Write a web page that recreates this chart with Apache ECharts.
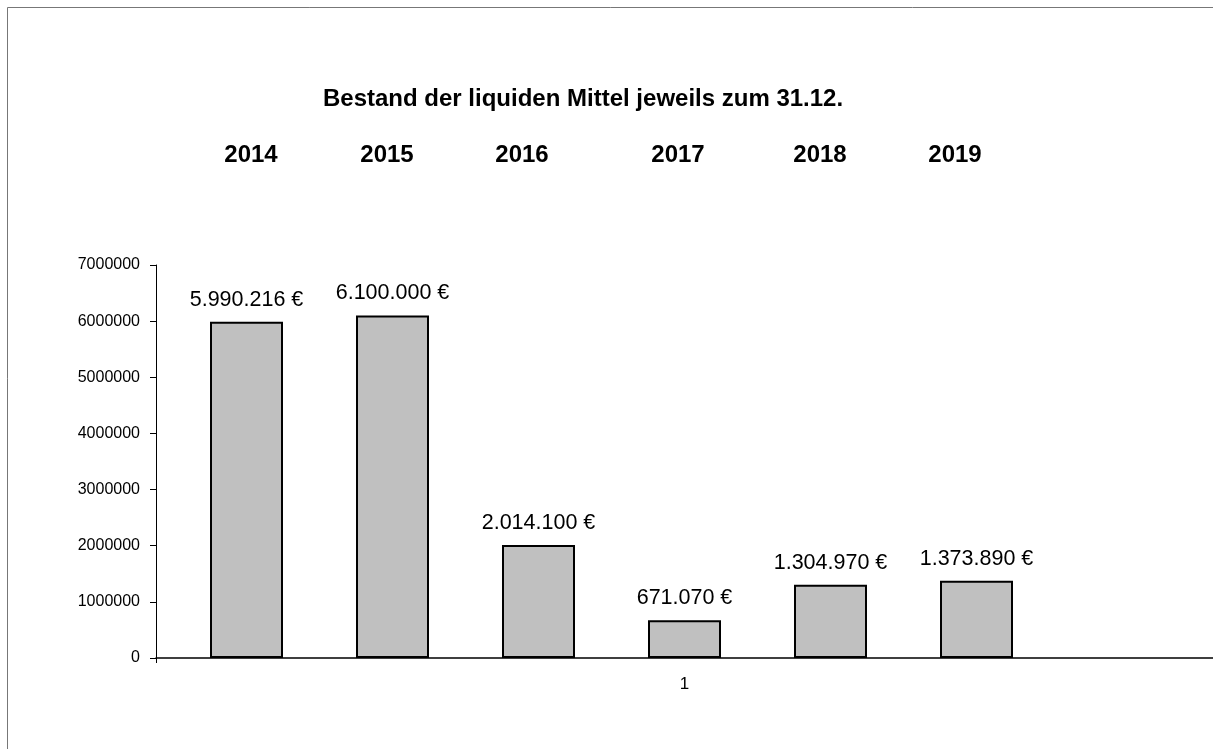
<!DOCTYPE html>
<html>
<head>
<meta charset="utf-8">
<script src="https://cdn.jsdelivr.net/npm/echarts@6/dist/echarts.min.js"></script>
<style>
  html, body { margin: 0; padding: 0; background: #fff; }
  #chart { width: 1213px; height: 749px; }
</style>
</head>
<body>
<div id="chart"></div>
<script>
// Data
const categories = ['1']
const years = ['2014', '2015', '2016', '2017', '2018', '2019']
const values = [5990216, 6100000, 2014100, 671070, 1304970, 1373890]
const yTicks = { min: 0, max: 7000000, interval: 1000000 }

// where the year headings sit above the plot
const yearX = [251, 387, 522, 678, 820, 955]

const FONT = 'Arial, "Liberation Sans", sans-serif'

const euro = (v) => String(v).replace(/\B(?=(\d{3})+(?!\d))/g, '.') + ' €'

const barSeries = years.map((y, i) => ({
  name: y,
  type: 'bar',
  barWidth: 73,
  barGap: '100%',
  itemStyle: { color: '#c0c0c0', borderColor: '#000', borderWidth: 2 },
  label: {
    show: true,
    position: 'top',
    distance: 11,
    color: '#000',
    fontFamily: FONT,
    fontSize: 21.5,
    formatter: (p) => euro(p.value)
  },
  data: [values[i]]
}))
// the original chart keeps an empty seventh slot to the right
barSeries.push({ name: '', type: 'bar', barWidth: 73, barGap: '100%', data: ['-'] })

const option = {
  animation: false,
  backgroundColor: '#fff',
  grid: { left: 156, right: 0, top: 265, bottom: 91, containLabel: false },
  title: {
    text: 'Bestand der liquiden Mittel jeweils zum 31.12.',
    left: 318,
    top: 82,
    textStyle: { fontFamily: FONT, fontSize: 24, fontWeight: 'bold', color: '#000' }
  },
  graphic: [
    {
      type: 'rect',
      silent: true,
      shape: { x: 7.5, y: 7.5, width: 1400, height: 1000 },
      style: { fill: 'none', stroke: '#777', lineWidth: 1 }
    },
    ...years.map((y, i) => ({
      type: 'text',
      x: yearX[i],
      y: 155,
      style: {
        text: y,
        fontFamily: FONT,
        fontSize: 24,
        fontWeight: 'bold',
        fill: '#000',
        textAlign: 'center',
        textVerticalAlign: 'middle'
      }
    }))
  ],
  xAxis: {
    type: 'category',
    data: categories,
    axisLine: { lineStyle: { color: '#000', width: 1.5 } },
    axisTick: { show: true, length: 5, lineStyle: { color: '#000' } },
    axisLabel: { color: '#000', fontFamily: FONT, fontSize: 17, margin: 18 }
  },
  yAxis: {
    type: 'value',
    min: yTicks.min,
    max: yTicks.max,
    interval: yTicks.interval,
    splitLine: { show: false },
    axisLine: { show: true, lineStyle: { color: '#000', width: 1 } },
    axisTick: { show: true, length: 6, lineStyle: { color: '#000' } },
    axisLabel: {
      color: '#000',
      fontFamily: FONT,
      fontSize: 16,
      margin: 16,
      formatter: (v) => String(v)
    }
  },
  series: barSeries
}

const chart = echarts.init(document.getElementById('chart'))
chart.setOption(option)
</script>
</body>
</html>
